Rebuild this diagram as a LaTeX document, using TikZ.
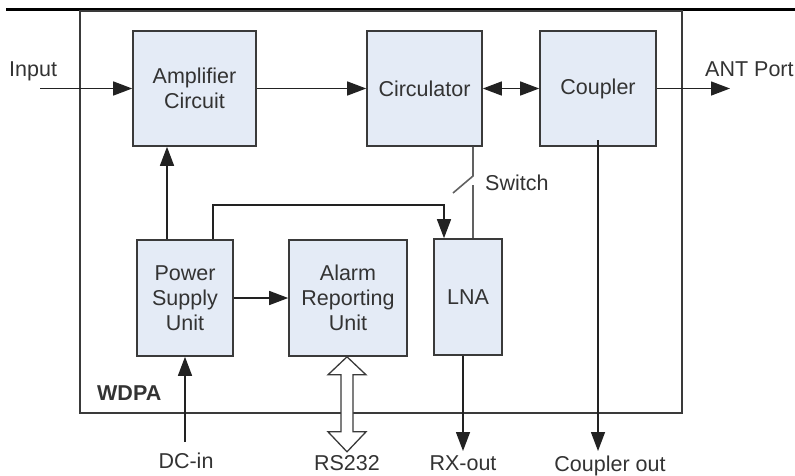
\documentclass[tikz,border=0pt]{standalone}
\usepackage{fontspec}
\setmainfont{Liberation Sans}
\usetikzlibrary{arrows.meta,calc}
\definecolor{blockfill}{HTML}{E4EBF6}
\definecolor{edgecol}{HTML}{3A3A3A}
\definecolor{txtcol}{HTML}{333333}
\definecolor{wirecol}{HTML}{222222}
\begin{document}
\begin{tikzpicture}[x=1pt,y=-1pt,
  blockbox/.style={draw=edgecol,line width=1.6pt,fill=blockfill,align=center,
    text=txtcol,font=\fontsize{21.5}{25}\selectfont,inner sep=0pt},
  lbl/.style={text=txtcol,font=\fontsize{21.5}{25}\selectfont,inner sep=0pt},
  wire/.style={draw=wirecol,line width=1.4pt},
  arr/.style={wire,-{Triangle[length=19pt,width=14pt]}},
  darr/.style={wire,{Triangle[length=19pt,width=14pt]}-{Triangle[length=19pt,width=14pt]}},
  grayline/.style={draw=edgecol!80,line width=1.6pt}
]
\useasboundingbox (0,0) rectangle (795,475);
% separator line and enclosure
\draw[line width=3pt,black] (6,9) -- (795,9);
\draw[draw=edgecol,line width=1.6pt] (80,11) rectangle (682,413);
\node[lbl,anchor=base west,font=\fontsize{21.5}{25}\selectfont\bfseries] (wdpa) at (97,400) {WDPA};

% blocks
\node[blockbox,minimum width=123pt,minimum height=115pt] (amp) at (194.5,88.5) {Amplifier\\Circuit};
\node[blockbox,minimum width=115pt,minimum height=115pt] (circ) at (424.5,88.5) {Circulator};
\node[blockbox,minimum width=116pt,minimum height=115pt] (coup) at (598,88.5) {Coupler};
\node[blockbox,minimum width=96pt,minimum height=116pt] (psu) at (185,298) {Power\\Supply\\Unit};
\node[blockbox,minimum width=118pt,minimum height=116pt] (alarm) at (348,298) {Alarm\\Reporting\\Unit};
\node[blockbox,minimum width=68pt,minimum height=116pt] (lna) at (468,297) {LNA};

% free ends
\coordinate (inp) at (40,88.5);
\coordinate (antend) at (730,88.5);
\coordinate (coupstart) at (598,140);
\coordinate (coupend) at (598,451);
\coordinate (dcstart) at (185,442);
\coordinate (rxend) at (463,451);
\coordinate (sw1) at (473,176);
\coordinate (sw2) at (473,185);
\coordinate (pwrrail) at (213,205);

% labels
\node[lbl,anchor=base west] (inlbl) at (9,76) {Input};
\node[lbl,anchor=base west] (antlbl) at (705,76) {ANT Port};
\node[lbl,anchor=base west] (swlbl) at (485,190) {Switch};
\node[lbl,anchor=base] (dclbl) at (186,468) {DC-in};
\node[lbl,anchor=base] (rslbl) at (347,470) {RS232};
\node[lbl,anchor=base] (rxlbl) at (463,470) {RX-out};
\node[lbl,anchor=base] (cplbl) at (610,471) {Coupler out};

% connectors
\draw[arr] (inp) -- (amp.west);
\draw[arr] (amp.east) -- (circ.west);
\draw[darr] (circ.east) -- (coup.west);
\draw[arr] (coup.east) -- (antend);
\draw[arr] (coupstart) -- (coupend);
\draw[arr] ([xshift=-18pt]psu.north) -- ([xshift=-18pt]psu.north |- amp.south);
\draw[arr] ([xshift=28pt]psu.north) |- (pwrrail) -| ([xshift=-24pt]lna.north);
\draw[arr] (psu.east) -- (alarm.west);
\draw[arr] (dcstart) -- (psu.south);
\draw[arr] ([xshift=-5pt]lna.south) -- (rxend);
% switch
\draw[grayline] (circ.south -| sw1) -- (sw1) -- ++(-20,17);
\draw[grayline] (sw2) -- (lna.north -| sw2);
% RS232 hollow double arrow
\draw[draw=edgecol,line width=1.3pt,fill=white,line join=miter]
  ([xshift=-1pt]alarm.south) -- ++(19,18) -- ++(-13,0) -- ++(0,57) -- ++(13,0)
  -- ++(-19,20) -- ++(-19,-20) -- ++(13,0) -- ++(0,-57) -- ++(-13,0) -- cycle;
\end{tikzpicture}
\end{document}
